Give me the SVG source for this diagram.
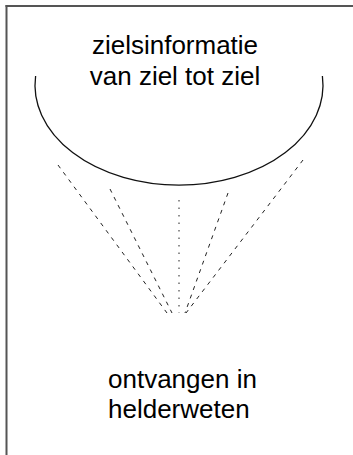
<svg xmlns="http://www.w3.org/2000/svg" width="353" height="455" viewBox="0 0 353 455">
  <style>
    .lbl { font-family: "Liberation Sans", Arial, sans-serif; font-size: 26px; fill: #000; }
    .ray { stroke: #222; stroke-width: 1; fill: none; stroke-dasharray: 4 5; }
    .dot { stroke: #222; stroke-width: 1; fill: none; stroke-dasharray: 1.5 6; }
  </style>
  <rect width="353" height="455" fill="#fff"/>
  <g id="frame" stroke="#555" stroke-width="2" fill="none">
    <line x1="5.5" y1="6" x2="353" y2="6"/>
    <line x1="6.5" y1="5" x2="6.5" y2="455"/>
  </g>
  <g id="source">
    <path d="M 35.6 76 A 144 100 0 1 0 322.4 76" fill="none" stroke="#111" stroke-width="1.3"/>
    <text class="lbl" x="175" y="54" text-anchor="middle">zielsinformatie</text>
    <text class="lbl" x="175" y="85" text-anchor="middle">van ziel tot ziel</text>
  </g>
  <g id="connectors">
    <line class="ray" x1="58" y1="165" x2="167" y2="313"/>
    <line class="ray" x1="110" y1="189" x2="172" y2="313"/>
    <line class="dot" x1="179" y1="200" x2="179" y2="313"/>
    <line class="ray" x1="228" y1="193" x2="185" y2="313"/>
    <line class="ray" x1="303" y1="160" x2="186" y2="313"/>
  </g>
  <g id="receiver">
    <text class="lbl" x="108" y="388">ontvangen in</text>
    <text class="lbl" x="108" y="418">helderweten</text>
  </g>
</svg>
